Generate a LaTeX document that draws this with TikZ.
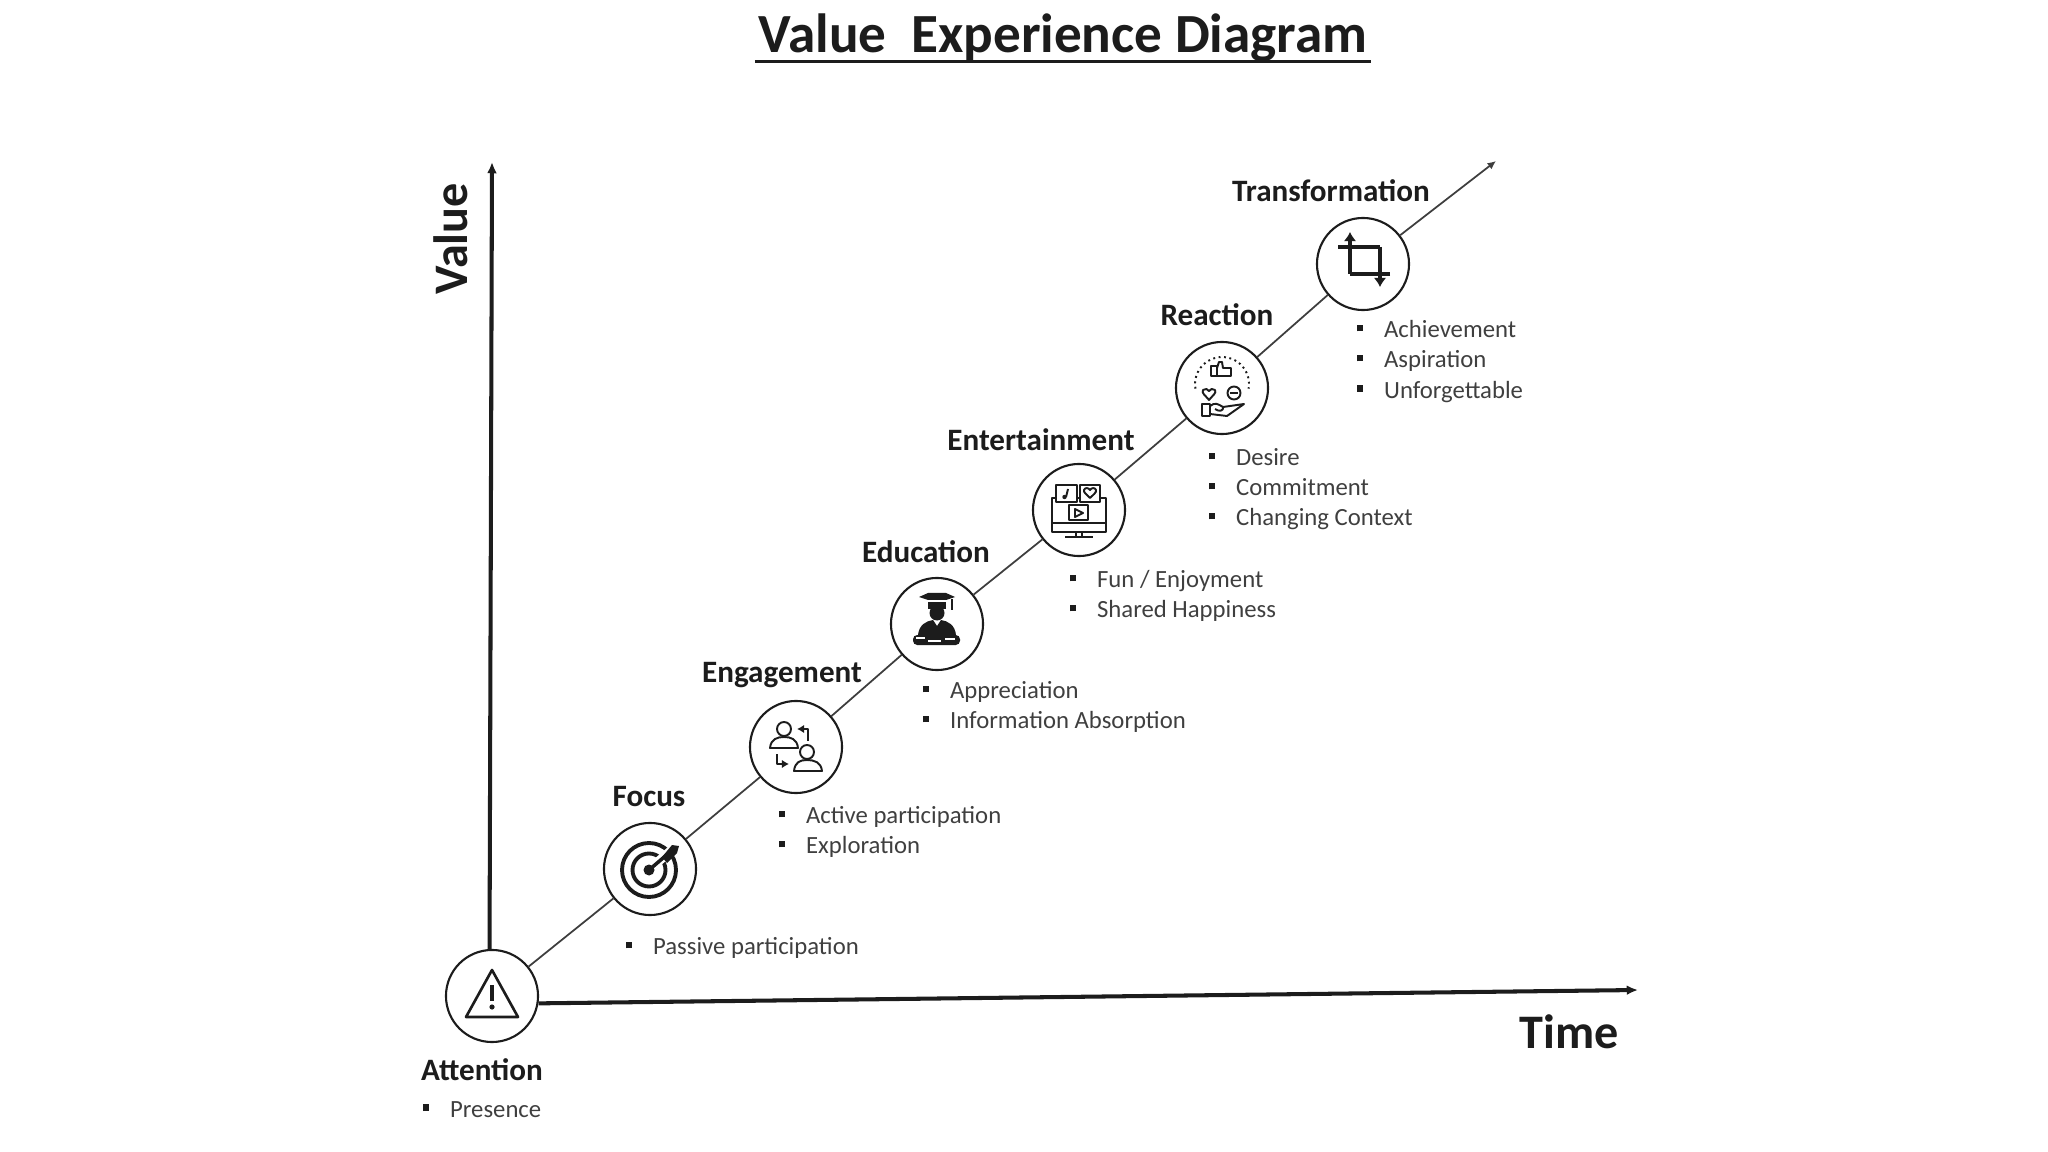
\documentclass[tikz,border=0pt]{standalone}
\usepackage{fontspec}
\setmainfont{Carlito}
\usetikzlibrary{arrows.meta,positioning}
\definecolor{inkc}{HTML}{1C1C1C}
\definecolor{listc}{HTML}{3F3F3F}
\newcommand{\itm}[1]{\textcolor{inkc}{\rule[.55ex]{1.9pt}{1.9pt}}\hspace{5.9pt}#1}
\begin{document}
\begin{tikzpicture}[x=0.01cm, y=-0.01cm, >={Latex[length=3.2pt,width=2.8pt]}, text=inkc,
stage/.style={circle, draw=inkc, line width=.6pt, fill=white, minimum size=.92cm, inner sep=0pt},
stagelabel/.style={font=\fontsize{8.85}{10}\selectfont\bfseries, inner sep=0pt, text height=.2cm, text depth=.05cm},
itemlist/.style={font=\fontsize{7.03}{8.55}\selectfont, text=listc, align=left, anchor=north west, inner sep=0pt},
axislabel/.style={font=\fontsize{13.7}{15}\selectfont\bfseries, inner sep=0pt},
axisline/.style={draw=inkc, line width=1.15pt},
iconline/.style={draw=inkc, line width=.55pt, line join=round},
iconfill/.style={fill=inkc}]
\useasboundingbox (0,0) rectangle (2048,1152);
\node[font=\fontsize{15.7}{17}\selectfont\bfseries, inner xsep=.03cm, inner ysep=0pt, text height=.33cm, text depth=.09cm] (heading) at (1063,40) {Value\ \ Experience Diagram};
\draw[draw=inkc, line width=.85pt] (heading.south west) -- (heading.south east);

\node[stage] (attention) at (492,996) {};
\node[stage] (focus) at (650,869) {};
\node[stage] (engagement) at (796,747) {};
\node[stage] (education) at (937,624) {};
\node[stage] (entertainment) at (1079,510) {};
\node[stage] (reaction) at (1222,388) {};
\node[stage] (transformation) at (1363,264) {};
\coordinate (valuetip) at (492,162);
\coordinate (timetip) at (1638,990);
\coordinate (stagetip) at (1496,161);

\draw[->, axisline] (attention.93) -- (valuetip);
\draw[->, axisline] (attention.-9) -- (timetip);
\draw[draw=inkc!85, line width=.5pt] (attention) -- (focus);
\draw[draw=inkc!85, line width=.5pt] (focus) -- (engagement);
\draw[draw=inkc!85, line width=.5pt] (engagement) -- (education);
\draw[draw=inkc!85, line width=.5pt] (education) -- (entertainment);
\draw[draw=inkc!85, line width=.5pt] (entertainment) -- (reaction);
\draw[draw=inkc!85, line width=.5pt] (reaction) -- (transformation);
\draw[->, draw=inkc!85, line width=.5pt, >={Latex[length=2.4pt,width=2.2pt]}] (transformation) -- (stagetip);

\node[axislabel, rotate=90] (valuelabel) at (451,239) {Value};
\node[axislabel] (timelabel) at (1569,1032) {Time};

\node[stagelabel, below=.17cm of attention, xshift=-.1cm] (attentionlabel) {Attention};
\node[stagelabel, above=.10cm of focus, xshift=-.01cm] (focuslabel) {Focus};
\node[stagelabel, above=.12cm of engagement, xshift=-.14cm] (engagementlabel) {Engagement};
\node[stagelabel, above=.09cm of education, xshift=-.11cm] (educationlabel) {Education};
\node[stagelabel, above=.07cm of entertainment, xshift=-.38cm] (entertainmentlabel) {Entertainment};
\node[stagelabel, above=.10cm of reaction, xshift=-.05cm] (reactionlabel) {Reaction};
\node[stagelabel, above=.10cm of transformation, xshift=-.32cm] (transformationlabel) {Transformation};

\node[itemlist] (attentionlist) at (422,1101) {\itm{Presence}};
\node[itemlist] (focuslist) at (625,937) {\itm{Passive participation}};
\node[itemlist] (engagementlist) at (778,806) {\itm{Active participation}\\\itm{Exploration}};
\node[itemlist] (educationlist) at (922,681) {\itm{Appreciation}\\\itm{Information Absorption}};
\node[itemlist] (entertainmentlist) at (1069,570) {\itm{Fun / Enjoyment}\\\itm{Shared Happiness}};
\node[itemlist] (reactionlist) at (1208,448) {\itm{Desire}\\\itm{Commitment}\\\itm{Changing Context}};
\node[itemlist] (transformlist) at (1356,320) {\itm{Achievement}\\\itm{Aspiration}\\\itm{Unforgettable}};

\begin{scope}[shift={(attention)}]
\draw[iconline, line width=.75pt] (0,-26) -- (26,21) -- (-26,21) -- cycle;
\draw[iconline, line width=1pt] (0,-11) -- (0,5);
\fill[iconfill] (0,11) circle (2.6);
\end{scope}

\begin{scope}[shift={(focus)}]
\draw[iconline, line width=1.1pt] (-1,1) circle (27);
\draw[iconline, line width=1.1pt] (-1,1) circle (16.5);
\fill[iconfill] (-1,1) circle (5.5);
\draw[draw=white, line width=2.6pt] (3,-3) -- (24,-21);
\draw[iconline, line width=1pt] (-1,1) -- (20,-17);
\fill[iconfill] (12,-12) -- (22,-24) -- (29,-23) -- (27,-16) -- (17,-6) -- cycle;
\end{scope}

\begin{scope}[shift={(engagement)}]
\draw[iconline] (-12,-18) circle (7);
\draw[iconline] (-26,1) .. controls (-25,-8) and (-19,-10) .. (-12,-10) .. controls (-5,-10) and (1,-8) .. (2,1) -- cycle;
\draw[iconline] (11,5) circle (7);
\draw[iconline] (-2,24) .. controls (-1,15) and (4,13) .. (11,13) .. controls (18,13) and (25,15) .. (26,24) -- cycle;
\draw[->, iconline, >={Latex[length=2pt,width=2.4pt]}] (12,-6) -- (12,-18) -- (1,-18);
\draw[->, iconline, >={Latex[length=2pt,width=2.4pt]}] (-19,7) -- (-19,17) -- (-7,17);
\end{scope}

\begin{scope}[shift={(education)}]
\fill[iconfill] (-18,-27) -- (-9,-31) -- (9,-31) -- (18,-27) -- (9,-24) -- (-9,-24) -- cycle;
\fill[iconfill] (-9,-22) -- (9,-22) -- (9,-15) -- (-9,-15) -- cycle;
\fill[iconfill] (0,-11) circle (7.5);
\draw[iconline, line width=.4pt] (15,-25) -- (15,-14);
\fill[iconfill] (-19,11) .. controls (-18,1) and (-11,-3) .. (-4,-4) -- (0,2) -- (4,-4) .. controls (11,-3) and (18,1) .. (19,11) -- cycle;
\fill[iconfill, rounded corners=1.2pt] (-24,11) rectangle (23,21);
\draw[draw=white, line width=.45pt] (-21,14) -- (-12,14) (-9,17) -- (4,17) (8,15) -- (18,15);
\end{scope}

\begin{scope}[shift={(entertainment)}]
\draw[iconline, fill=white] (-27,-12) rectangle (27,22);
\draw[iconline] (-27,13) -- (27,13);
\draw[iconline] (-3,22) -- (-3,27) (3,22) -- (3,27) (-14,27) -- (14,27);
\draw[iconline, fill=white] (-23,-25) rectangle (-2,-8);
\draw[iconline, fill=white] (1,-25) rectangle (21,-8);
\draw[iconline, fill=white] (-10,-5) rectangle (9,10);
\draw[iconline] (-4,-1) -- (4,3) -- (-4,7) -- cycle;
\draw[iconline] (-11,-21) -- (-13,-13);
\fill[iconfill] (-14.5,-13) circle (2.2);
\draw[iconline] (11,-12) .. controls (8,-15) and (4,-18) .. (5,-20) .. controls (6,-23) and (10,-22) .. (11,-20) .. controls (12,-22) and (16,-23) .. (17,-20) .. controls (18,-18) and (14,-15) .. (11,-12) -- cycle;
\end{scope}

\begin{scope}[shift={(reaction)}]
\draw[iconline, densely dotted] (0,-4) ++(170:27) arc[start angle=170, end angle=370, radius=27];
\draw[iconline] (-11,-12) rectangle (-5,-22);
\draw[iconline] (-5,-12) -- (9,-12) -- (9,-20) -- (1,-20) -- (0,-26) -- (-3,-26) -- (-5,-20);
\draw[iconline] (-13,12) .. controls (-16,8) and (-21,5) .. (-19,2) .. controls (-17,0) and (-14,1) .. (-13,3) .. controls (-12,1) and (-9,0) .. (-7,2) .. controls (-5,5) and (-10,8) .. (-13,12) -- cycle;
\draw[iconline] (12,5) circle (6.5);
\draw[iconline] (8,5) -- (16,5);
\draw[iconline] (-20,16) rectangle (-12,28);
\draw[iconline] (-12,18) .. controls (-7,14) and (-4,16) .. (1,19) -- (22,16) -- (5,28) -- (-12,26);
\draw[iconline] (1,19) .. controls (2,23) and (-3,24) .. (-7,21);
\end{scope}

\begin{scope}[shift={(transformation)}]
\draw[->, iconline, line width=1.3pt, >={Latex[length=2.6pt,width=3.6pt]}] (-13,10) -- (-13,-32);
\draw[iconline, line width=1.3pt] (27,10) -- (-13,10);
\draw[iconline, line width=1.3pt] (-25,-17) -- (17,-17);
\draw[->, iconline, line width=1.3pt, >={Latex[length=2.6pt,width=3.6pt]}] (17,-17) -- (17,23);
\end{scope}
\end{tikzpicture}
\end{document}
